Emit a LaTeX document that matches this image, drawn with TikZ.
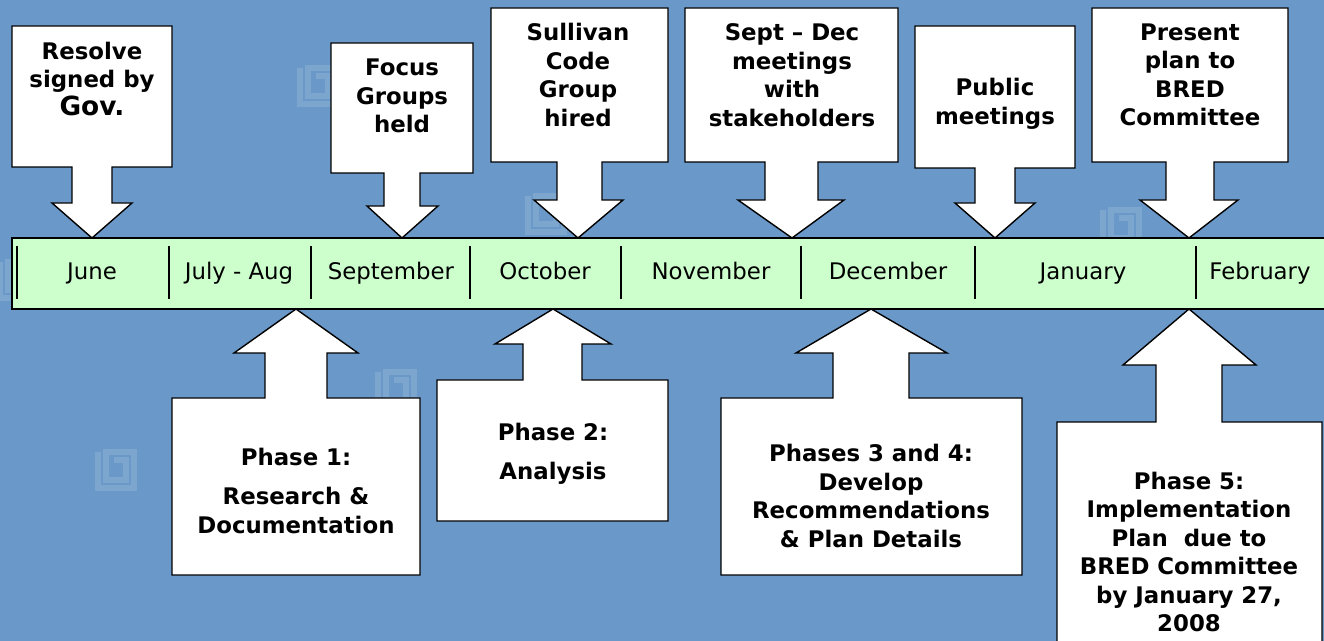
\documentclass[tikz,border=0pt]{standalone}
\usepackage{fontspec}
\setmainfont{DejaVu Sans}
\definecolor{slate}{RGB}{106,153,201}
\definecolor{mint}{RGB}{204,255,204}

\begin{document}
\begin{tikzpicture}[x=0.02cm, y=-0.02cm,
                    callout/.style={draw=black, fill=white, line width=0.8pt},
                    tag/.style={font=\fontsize{13}{16.2}\selectfont\bfseries, align=center, inner sep=0},
                    month/.style={font=\fontsize{13}{16}\selectfont, inner sep=0, anchor=base},
                    keymark/.pic={\draw[line width=3pt, white, opacity=0.13] (0,0) -- (0,36) -- (36,36) -- (36,0) -- (8,0) -- (8,28) -- (28,28) -- (28,8) -- (16,8);}]

\useasboundingbox (0,0) rectangle (1324,641);
\clip (0,0) rectangle (1324,641);
\fill[slate] (0,0) rectangle (1324,641);

% faint marks of the background
\foreach \mx/\my in {300/68, 0/262, 98/452, 378/372, 622/462, 528/196, 803/18, 1103/210}
    \pic at (\mx,\my) {keymark};

% the time line
\draw[fill=mint, line width=0.8pt] (12,238) rectangle (1340,309);
\foreach \sx in {17,169,311,470,621,801,975,1196}
    \draw[line width=0.9pt] (\sx,246) -- (\sx,299);
\foreach \mx/\mtext [count=\k] in {92/June, 239/July - Aug, 391/September, 545/October,
                                   711/November, 888/December, 1083/January, 1260/February}
    \node[month] (m\k) at (\mx,280) {\mtext};

% events, pointing down
\foreach \bl/\br/\bt/\bb/\sl/\sr/\hl/\hr/\hy/\tx in {12/172/26/167/72/112/52/132/203/92,
                                                   331/473/43/173/384/420/367/438/206/402,
                                                   491/668/8/162/557/602/534/623/200/578,
                                                   685/898/8/162/765/818/738/844/200/792,
                                                   915/1075/26/168/975/1015/955/1035/203/995,
                                                   1092/1288/8/162/1166/1214/1140/1238/200/1189}
    \draw[callout] (\bl,\bt) -- (\br,\bt) -- (\br,\bb) -- (\sr,\bb) -- (\sr,\hy) -- (\hr,\hy) -- (\tx,238)
                   -- (\hl,\hy) -- (\sl,\hy) -- (\sl,\bb) -- (\bl,\bb) -- cycle;

\node[tag] (resolve) at (92,79) {Resolve\\signed by\\{\fontsize{15}{16.2}\selectfont Gov.}};
\node[tag] (focus) at (402,96) {Focus\\Groups\\held};
\node[tag] (hired) at (578,75) {Sullivan\\Code\\Group\\hired};
\node[tag] (stake) at (792,75) {Sept – Dec\\meetings\\with\\stakeholders};
\node[tag] (public) at (995,104) {Public\\meetings};
\node[tag] (present) at (1190,75) {Present\\plan to\\BRED\\Committee};

% phases, pointing up
\foreach \bl/\br/\bt/\bb/\sl/\sr/\hl/\hr/\hy/\tx in {172/420/398/575/265/327/234/358/353/296,
                                                   437/668/380/521/523/582/495/611/344/553,
                                                   721/1022/398/575/833/909/796/947/353/871,
                                                   1057/1322/422/660/1156/1222/1123/1256/365/1189}
    \draw[callout] (\bl,\bt) -- (\sl,\bt) -- (\sl,\hy) -- (\hl,\hy) -- (\tx,309) -- (\hr,\hy)
                   -- (\sr,\hy) -- (\sr,\bt) -- (\br,\bt) -- (\br,\bb) -- (\bl,\bb) -- cycle;

\node[tag] (phase1) at (296,491) {Phase 1:\\[6pt]Research \&\\Documentation};
\node[tag] (phase2) at (553,454) {Phase 2:\\[6pt]Analysis};
\node[tag] (phase34) at (871,496) {Phases 3 and 4:\\Develop\\Recommendations\\\& Plan Details};
\node[tag] (phase5) at (1189,552) {Phase 5:\\Implementation\\Plan~ due to\\BRED Committee\\by January 27,\\2008};
\end{tikzpicture}
\end{document}
